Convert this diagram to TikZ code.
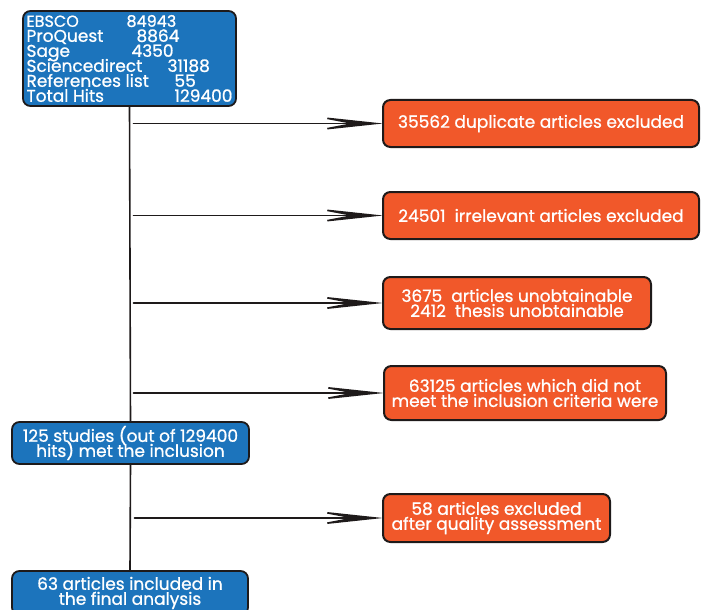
\documentclass[tikz,border=0pt]{standalone}
\usepackage{fontspec}
\setmainfont{Poppins}
\newfontfamily\boxfont{Poppins}[FakeBold=0.9]
\usepackage{tikz}
\usetikzlibrary{arrows.meta,positioning,calc}
\definecolor{boxblue}{HTML}{1C74BC}
\definecolor{boxorange}{HTML}{F1582A}
\definecolor{ink}{HTML}{1E1A1A}
\tikzset{
    every picture/.style={line cap=round,line join=round},
    srcbox/.style={draw=ink,fill=boxblue,line width=1.8pt,rounded corners=2.6mm,
      inner sep=0pt,outer sep=0pt,text=white,align=center,
      font=\boxfont\fontsize{17}{15}\selectfont,
      execute at begin node={\lineskiplimit=-20pt}},
    exclbox/.style={draw=ink,fill=boxorange,line width=2pt,rounded corners=2.6mm,
      inner sep=0pt,outer sep=0pt,text=white,align=center,
      font=\boxfont\fontsize{17}{15}\selectfont,
      execute at begin node={\lineskiplimit=-20pt}},
    flowarrow/.style={-{Stealth[length=75pt,width=16pt,inset=42pt]},draw=ink,
      line width=1.6pt},
    trunk/.style={draw=ink,line width=1.6pt}
}
\newcommand{\hitrow}[3]{\makebox[#1pt][l]{#2}#3}

\begin{document}
\begin{tikzpicture}[x=1pt,y=-1pt]
  \useasboundingbox (0,0) rectangle (705,610);
  % blue boxes down the left trunk
  \node[srcbox,minimum width=213pt,minimum height=95pt,align=left] (hits) at (129.5,58.5)
    {\fontsize{16}{14.6}\selectfont
     \hitrow{100}{EBSCO}{84943}\\
     \hitrow{110}{ProQuest}{8864}\\
     \hitrow{105}{Sage}{4350}\\
     \hitrow{141}{Sciencedirect}{31188}\\
     \hitrow{148}{References list}{55}\\
     \hitrow{148}{Total Hits}{129400}};
  \node[srcbox,minimum width=237pt,minimum height=42pt] (met) at (130.5,443)
    {125 studies (out of 129400\\hits) met the inclusion};
  \node[srcbox,minimum width=236pt,minimum height=44pt] (final) at (130,593)
    {63 articles included in\\the final analysis};

  % orange exclusion boxes
  \node[exclbox,minimum width=316pt,minimum height=47pt] (dup) at (541,123.5)
    {35562 duplicate articles excluded};
  \node[exclbox,minimum width=316pt,minimum height=47pt] (irrel) at (541,215.5)
    {24501\ \ irrelevant articles excluded};
  \node[exclbox,minimum width=268pt,minimum height=52pt] (unob) at (517,303)
    {3675\ \ articles unobtainable\\2412\ \ thesis unobtainable};
  \node[exclbox,minimum width=282pt,minimum height=54pt] (crit) at (525,393)
    {63125 articles which did not\\meet the inclusion criteria were};
  \node[exclbox,minimum width=227pt,minimum height=48pt] (qual) at (496.5,518)
    {58 articles excluded\\after quality assessment};

  \draw[trunk] (hits.south) -- (met.north);
  \draw[trunk] (met.south) -- (final.north);

  \foreach \b in {dup,irrel,unob,crit}
    \draw[flowarrow] ([xshift=4pt]hits.south |- \b.west) -- (\b.west);
  \draw[flowarrow] ([xshift=4pt]met.south |- qual.west) -- (qual.west);
\end{tikzpicture}
\end{document}
